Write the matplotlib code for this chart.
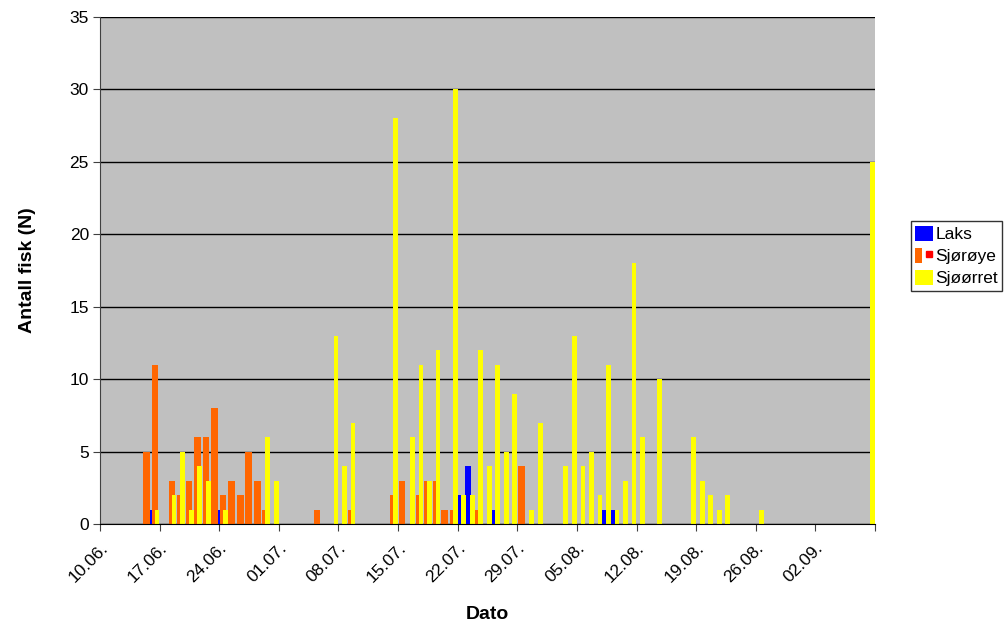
#!/usr/bin/env python3

import pandas as pd
import numpy as np
import matplotlib
matplotlib.use("Agg")
import matplotlib.pyplot as plt
from matplotlib.patches import Patch
from matplotlib.lines import Line2D
from matplotlib.legend_handler import HandlerTuple

plt.rcParams['font.family'] = ['Liberation Sans', 'DejaVu Sans']

# catch days (dd.mm.) and number of fish per species
dates = ['15.06', '16.06', '18.06', '19.06', '20.06', '21.06', '22.06', '23.06',
         '24.06', '25.06', '26.06', '27.06', '28.06', '29.06', '30.06', '05.07',
         '07.07', '08.07', '09.07', '14.07', '15.07', '16.07', '17.07', '18.07',
         '19.07', '20.07', '21.07', '22.07', '23.07', '24.07', '25.07', '26.07',
         '27.07', '28.07', '29.07', '30.07', '31.07', '03.08', '04.08', '05.08',
         '06.08', '07.08', '08.08', '09.08', '10.08', '11.08', '12.08', '14.08',
         '18.08', '19.08', '20.08', '21.08', '22.08', '26.08', '08.09']
laks = [0, 1, 0, 0, 0, 0, 0, 0,
        1, 0, 0, 0, 0, 0, 0, 0,
        0, 0, 0, 0, 0, 0, 0, 0,
        0, 0, 0, 2, 4, 0, 0, 1,
        0, 0, 0, 0, 0, 0, 0, 0,
        0, 0, 1, 1, 0, 0, 0, 0,
        0, 0, 0, 0, 0, 0, 0]
sjoroye = [5, 11, 3, 2, 3, 6, 6, 8,
           2, 3, 2, 5, 3, 1, 0, 1,
           0, 0, 1, 2, 3, 0, 2, 3,
           3, 1, 1, 0, 0, 1, 0, 0,
           0, 0, 4, 0, 0, 0, 0, 0,
           0, 0, 0, 0, 0, 0, 0, 0,
           0, 0, 0, 0, 0, 0, 0]
sjoorret = [0, 1, 2, 5, 1, 4, 3, 0,
            1, 0, 0, 0, 0, 6, 3, 0,
            13, 4, 7, 28, 0, 6, 11, 3,
            12, 0, 30, 2, 2, 12, 4, 11,
            5, 9, 0, 1, 7, 4, 13, 4,
            5, 2, 11, 1, 3, 18, 6, 10,
            6, 3, 2, 1, 2, 1, 25]
tick_dates = ['10.06.', '17.06.', '24.06.', '01.07.', '08.07.', '15.07.', '22.07.',
              '29.07.', '05.08.', '12.08.', '19.08.', '26.08.', '02.09.', '']

start = pd.Timestamp('2008-06-10')
days = np.array([(pd.to_datetime(d + '.2008', format='%d.%m.%Y') - start).days
                 for d in dates])

fig = plt.figure(figsize=(10.08, 6.31), dpi=100)
ax = fig.add_axes([100 / 1008, 1 - 524 / 631, 775 / 1008, 507 / 631])
ax.set_facecolor('#C0C0C0')

ax.bar(days + 0.22, laks, width=0.64, color='#0000FF', zorder=3)
ax.bar(days + 0.46, sjoroye, width=0.78, color='#FF6600', zorder=3)
ax.bar(days + 0.70, sjoorret, width=0.56, color='#FFFF00', zorder=3)

ax.set_xlim(0, 91)
ax.set_ylim(0, 35)
ax.set_yticks(np.arange(0, 36, 5))
ax.set_xticks(np.arange(0, 92, 7))
ax.set_xticklabels(tick_dates, rotation=45, ha='right', va='top',
                   rotation_mode='anchor')
ax.yaxis.grid(True, color='black', linewidth=1)
ax.set_axisbelow(True)
ax.tick_params(axis='both', labelsize=12.5, length=5, direction='out', color='#404040')
ax.tick_params(axis='x', pad=7)
ax.tick_params(axis='y', pad=3)

for s in ['top', 'right']:
    ax.spines[s].set_visible(False)
ax.spines['left'].set_color('#404040')
ax.spines['bottom'].set_color('black')
ax.spines['bottom'].set_zorder(4)

ax.set_ylabel('Antall fisk (N)', fontsize=14, fontweight='bold', labelpad=24)
ax.set_xlabel('Dato', fontsize=14, fontweight='bold', labelpad=15)

handles = [Patch(facecolor='#0000FF'),
           (Patch(facecolor='#FF6600'),
            Line2D([], [], marker='s', color='#FF0000', markersize=5, linestyle='')),
           Patch(facecolor='#FFFF00')]
fig.legend(handles, ['Laks', 'Sjørøye', 'Sjøørret'],
           handler_map={tuple: HandlerTuple(ndivide=None)},
           loc='center left', bbox_to_anchor=(911 / 1008, 1 - 256 / 631),
           fontsize=12.5, frameon=True, fancybox=False, edgecolor='black',
           borderpad=0.25, handlelength=1.0, handleheight=1.0, handletextpad=0.15,
           labelspacing=0.3, borderaxespad=0)

fig.savefig('out.png', dpi=100)
